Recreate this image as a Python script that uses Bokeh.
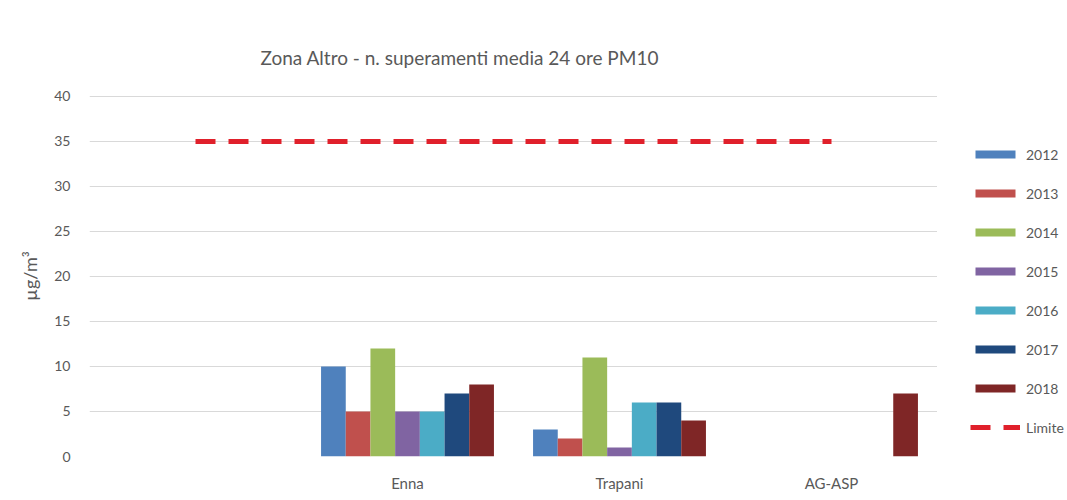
from bokeh.plotting import figure
from bokeh.layouts import row
from bokeh.models import FactorRange, Range1d, Legend, LegendItem, Title, ColumnDataSource, SingleIntervalTicker
from bokeh.transform import dodge
from bokeh.embed import file_html
from bokeh.resources import INLINE

stations = [" ", "Enna", "Trapani", "AG-ASP"]
years = ["2012", "2013", "2014", "2015", "2016", "2017", "2018"]
v2012 = [0, 10, 3, 0]
v2013 = [0, 5, 2, 0]
v2014 = [0, 12, 11, 0]
v2015 = [0, 5, 1, 0]
v2016 = [0, 5, 6, 0]
v2017 = [0, 7, 6, 0]
v2018 = [0, 8, 4, 7]
limite = [35, 35, 35, 35]
series = [v2012, v2013, v2014, v2015, v2016, v2017, v2018]
colors = ["#4F81BD", "#C0504D", "#9BBB59", "#8064A2", "#4BACC6", "#1F497D", "#7F2626"]
title_text = "Zona Altro -  n. superamenti media 24 ore PM10"
FONT = "Lato"
GREY = "#595959"
LIMIT_COLOR = "#E0202B"

p = figure(width=937, height=500, x_range=FactorRange(factors=stations, range_padding=0),
           y_range=Range1d(0, 40.1), output_backend="svg", toolbar_location=None,
           min_border_left=89, min_border_right=0, min_border_top=95, min_border_bottom=44)
p.outline_line_color = None
p.xgrid.grid_line_color = None
p.ygrid.grid_line_color = "#D9D9D9"
p.ygrid.grid_line_width = 1

src = ColumnDataSource(dict(station=stations, limite=limite, **{y: s for y, s in zip(years, series)}))
bw = 0.1165
for i, (yr, col) in enumerate(zip(years, colors)):
    p.vbar(x=dodge("station", (i - 3) * bw, range=p.x_range), top=yr, width=bw,
           source=src, fill_color=col, line_color=None)
p.line(x="station", y="limite", source=src, line_color=LIMIT_COLOR, line_width=5, line_dash="20 13")

p.yaxis.ticker = SingleIntervalTicker(interval=5)
for ax in (p.xaxis, p.yaxis):
    ax.axis_line_color = None
    ax.major_tick_line_color = None
    ax.minor_tick_line_color = None
    ax.major_tick_in = 0
    ax.major_tick_out = 0
    ax.major_label_text_font = FONT
    ax.major_label_text_color = GREY
p.xaxis.major_label_text_font_size = "15px"
p.xaxis.major_label_standoff = 17
p.yaxis.major_label_text_font_size = "14px"
p.yaxis.major_label_standoff = 15
p.yaxis.axis_label = "µg/m³"
p.yaxis.axis_label_text_font = FONT
p.yaxis.axis_label_text_font_style = "normal"
p.yaxis.axis_label_text_font_size = "18px"
p.yaxis.axis_label_text_color = GREY
p.yaxis.axis_label_standoff = 10

title = Title(text=title_text, align="left", offset=171, standoff=54, vertical_align="bottom",
              text_font=FONT, text_font_size="19px", text_font_style="normal", text_color=GREY)
p.add_layout(title, "above")

# legend panel (separate figure to the right of the plot)
lg = figure(width=130, height=500, x_range=Range1d(0, 1), y_range=Range1d(0, 1),
            output_backend="svg", toolbar_location=None,
            min_border_left=0, min_border_right=0, min_border_top=0, min_border_bottom=0)
lg.axis.visible = False
lg.grid.visible = False
lg.outline_line_color = None
proxy = ColumnDataSource(dict(x=[0], y=[0]))
items = []
for yr, col in zip(years, colors):
    r = lg.vbar(x="x", top="y", width=0, source=proxy, fill_color=col, line_color=None)
    items.append(LegendItem(label=yr, renderers=[r]))
lr = lg.line(x="x", y="y", source=proxy, line_color=LIMIT_COLOR, line_width=5, line_dash="20 13")
items.append(LegendItem(label="Limite", renderers=[lr]))
legend = Legend(items=items, location=(33, 19), glyph_width=50, glyph_height=10,
                label_height=20, spacing=19, padding=0, margin=0, label_standoff=6,
                border_line_color=None, background_fill_alpha=0,
                label_text_font=FONT, label_text_font_size="14px", label_text_color=GREY)
lg.add_layout(legend)

layout = row(p, lg, spacing=0)
open("out.html", "w").write(file_html(layout, INLINE))
